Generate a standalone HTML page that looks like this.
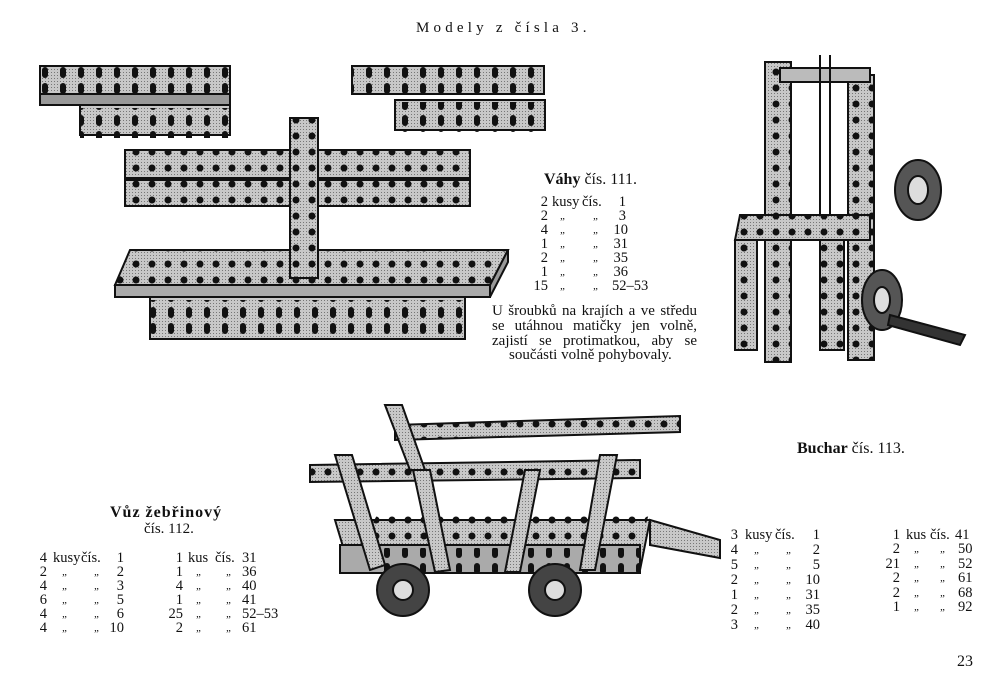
<!DOCTYPE html>
<html><head><meta charset="utf-8"><style>
html,body{margin:0;padding:0;background:#fff;}
body{width:1000px;height:700px;position:relative;overflow:hidden;font-family:"Liberation Serif",serif;color:#111;}
.t{position:absolute;font-size:15px;line-height:15px;white-space:pre;}
.r{position:absolute;font-size:14.5px;line-height:15px;white-space:pre;height:15px;}
.r span{position:absolute;top:0;}
.n{text-align:right;}
.q{font-size:11px;font-style:italic;}
.p{position:absolute;left:492px;width:205px;font-size:15px;line-height:15px;text-align:justify;text-align-last:justify;white-space:nowrap;}
svg{position:absolute;left:0;top:0;}
</style></head><body>
<svg width="1000" height="700" viewBox="0 0 1000 700">
<defs>
<pattern id="h" width="16" height="16" patternUnits="userSpaceOnUse"><circle cx="8" cy="8" r="3.5" fill="#111"/></pattern>
<pattern id="s" width="18" height="16" patternUnits="userSpaceOnUse"><rect x="6" y="3" width="6" height="11" rx="3" fill="#111"/></pattern>
<pattern id="g" width="3" height="3" patternUnits="userSpaceOnUse"><rect width="3" height="3" fill="#c8c8c8"/><rect width="1" height="1" fill="#777"/></pattern>
</defs>
<g stroke="#111" stroke-width="2">
<rect x="40" y="66" width="190" height="28" fill="url(#g)"/><rect x="40" y="66" width="190" height="28" fill="url(#s)" stroke="none"/>
<polygon points="40,94 230,94 230,105 40,105" fill="#999"/>
<rect x="80" y="105" width="150" height="30" fill="url(#g)"/><rect x="80" y="108" width="150" height="30" fill="url(#s)" stroke="none"/>
<rect x="352" y="66" width="192" height="28" fill="url(#g)"/><rect x="352" y="66" width="192" height="28" fill="url(#s)" stroke="none"/>
<rect x="395" y="100" width="150" height="30" fill="url(#g)"/><rect x="395" y="102" width="150" height="30" fill="url(#s)" stroke="none"/>
<rect x="125" y="150" width="345" height="28" fill="url(#g)"/><rect x="125" y="150" width="345" height="28" fill="url(#h)" stroke="none"/>
<rect x="125" y="180" width="345" height="26" fill="url(#g)"/><rect x="125" y="180" width="345" height="26" fill="url(#h)" stroke="none"/>
<polygon points="130,250 508,250 490,285 115,285" fill="url(#g)"/>
<polygon points="130,250 508,250 490,285 115,285" fill="url(#h)" stroke="none"/>
<rect x="115" y="285" width="375" height="12" fill="#aaa"/>
<polygon points="490,285 508,250 508,262 490,297" fill="#999"/>
<rect x="150" y="297" width="315" height="42" fill="url(#g)"/><rect x="150" y="300" width="315" height="36" fill="url(#s)" stroke="none"/>
<rect x="290" y="118" width="28" height="160" fill="url(#g)"/><rect x="290" y="118" width="28" height="160" fill="url(#h)" stroke="none"/>
<rect x="765" y="62" width="26" height="300" fill="url(#g)"/><rect x="765" y="62" width="26" height="300" fill="url(#h)" stroke="none"/>
<rect x="848" y="75" width="26" height="285" fill="url(#g)"/><rect x="848" y="75" width="26" height="285" fill="url(#h)" stroke="none"/>
<rect x="780" y="68" width="90" height="14" fill="#bbb"/>
<line x1="820" y1="55" x2="820" y2="235"/><line x1="830" y1="55" x2="830" y2="235"/>
<polygon points="740,215 870,215 870,240 735,240" fill="url(#g)"/><polygon points="740,215 870,215 870,240 735,240" fill="url(#h)" stroke="none"/>
<rect x="735" y="240" width="22" height="110" fill="url(#g)"/><rect x="735" y="240" width="22" height="110" fill="url(#h)" stroke="none"/>
<rect x="820" y="240" width="24" height="110" fill="url(#g)"/><rect x="820" y="240" width="24" height="110" fill="url(#h)" stroke="none"/>
<ellipse cx="918" cy="190" rx="23" ry="30" fill="#555"/><ellipse cx="918" cy="190" rx="10" ry="14" fill="#ddd"/>
<ellipse cx="882" cy="300" rx="20" ry="30" fill="#555"/><ellipse cx="882" cy="300" rx="8" ry="13" fill="#ddd"/>
<polygon points="890,315 965,335 960,345 888,325" fill="#333"/>
<polygon points="335,520 650,520 640,570 350,570" fill="url(#g)"/>
<polygon points="380,510 650,510 640,545 360,545" fill="url(#h)" stroke="none"/>
<rect x="340" y="545" width="300" height="28" fill="#aaa"/><rect x="380" y="548" width="260" height="24" fill="url(#s)" stroke="none"/>
<polygon points="395,425 680,416 680,432 395,440" fill="url(#g)"/><polygon points="395,425 680,416 680,432 395,440" fill="url(#h)" stroke="none"/>
<polygon points="310,465 640,460 640,478 310,482" fill="url(#g)"/><polygon points="310,465 640,460 640,478 310,482" fill="url(#h)" stroke="none"/>
<polygon points="335,455 352,455 385,565 370,570" fill="url(#g)"/>
<polygon points="413,470 430,470 450,570 435,572" fill="url(#g)"/>
<polygon points="525,470 540,470 520,572 505,572" fill="url(#g)"/>
<polygon points="600,455 617,455 595,570 580,570" fill="url(#g)"/>
<polygon points="385,405 402,405 425,470 410,470" fill="url(#g)"/>
<polygon points="650,520 720,540 720,558 650,545" fill="url(#g)"/>
<circle cx="403" cy="590" r="26" fill="#444"/><circle cx="403" cy="590" r="10" fill="#ddd"/>
<circle cx="555" cy="590" r="26" fill="#444"/><circle cx="555" cy="590" r="10" fill="#ddd"/>
</g>
</svg>
<div class="t" style="left:416px;top:21px;font-size:15px;letter-spacing:4.2px">Modely z čísla 3.</div>
<div class="t" style="left:544px;top:172px;font-size:16px"><b>Váhy</b> čís. 111.</div>

<div class="r" style="top:195px;left:0"><span class="n" style="left:520px;width:28px">2</span><span style="left:552px">kusy</span><span style="left:582px">čís.</span><span class="n" style="left:600px;width:26px">1</span></div>
<div class="r" style="top:209px;left:0"><span class="n" style="left:520px;width:28px">2</span><span class="q" style="left:560px">„</span><span class="q" style="left:593px">„</span><span class="n" style="left:600px;width:26px">3</span></div>
<div class="r" style="top:223px;left:0"><span class="n" style="left:520px;width:28px">4</span><span class="q" style="left:560px">„</span><span class="q" style="left:593px">„</span><span class="n" style="left:600px;width:28px">10</span></div>
<div class="r" style="top:237px;left:0"><span class="n" style="left:520px;width:28px">1</span><span class="q" style="left:560px">„</span><span class="q" style="left:593px">„</span><span class="n" style="left:600px;width:28px">31</span></div>
<div class="r" style="top:251px;left:0"><span class="n" style="left:520px;width:28px">2</span><span class="q" style="left:560px">„</span><span class="q" style="left:593px">„</span><span class="n" style="left:600px;width:28px">35</span></div>
<div class="r" style="top:265px;left:0"><span class="n" style="left:520px;width:28px">1</span><span class="q" style="left:560px">„</span><span class="q" style="left:593px">„</span><span class="n" style="left:600px;width:28px">36</span></div>
<div class="r" style="top:279px;left:0"><span class="n" style="left:520px;width:28px">15</span><span class="q" style="left:560px">„</span><span class="q" style="left:593px">„</span><span style="left:612px">52–53</span></div>

<div class="p" style="top:304px">U šroubků na krajích a ve středu</div>
<div class="p" style="top:319px">se utáhnou matičky jen volně,</div>
<div class="p" style="top:334px">zajistí se protimatkou, aby se</div>
<div class="t" style="left:509px;top:348px">součásti volně pohybovaly.</div>

<div class="t" style="left:797px;top:441px;font-size:16px"><b>Buchar</b> čís. 113.</div>
<div class="t" style="left:110px;top:505px;font-size:16px;letter-spacing:1px"><b>Vůz žebřinový</b></div>
<div class="t" style="left:144px;top:522px">čís. 112.</div>

<div class="r" style="top:551px;left:0"><span class="n" style="left:30px;width:17px">4</span><span style="left:53px">kusy</span><span style="left:81px">čís.</span><span class="n" style="left:100px;width:24px">1</span></div>
<div class="r" style="top:565px;left:0"><span class="n" style="left:30px;width:17px">2</span><span class="q" style="left:62px">„</span><span class="q" style="left:94px">„</span><span class="n" style="left:100px;width:24px">2</span></div>
<div class="r" style="top:579px;left:0"><span class="n" style="left:30px;width:17px">4</span><span class="q" style="left:62px">„</span><span class="q" style="left:94px">„</span><span class="n" style="left:100px;width:24px">3</span></div>
<div class="r" style="top:593px;left:0"><span class="n" style="left:30px;width:17px">6</span><span class="q" style="left:62px">„</span><span class="q" style="left:94px">„</span><span class="n" style="left:100px;width:24px">5</span></div>
<div class="r" style="top:607px;left:0"><span class="n" style="left:30px;width:17px">4</span><span class="q" style="left:62px">„</span><span class="q" style="left:94px">„</span><span class="n" style="left:100px;width:24px">6</span></div>
<div class="r" style="top:621px;left:0"><span class="n" style="left:30px;width:17px">4</span><span class="q" style="left:62px">„</span><span class="q" style="left:94px">„</span><span class="n" style="left:100px;width:24px">10</span></div>
<div class="r" style="top:551px;left:0"><span class="n" style="left:160px;width:23px">1</span><span style="left:188px">kus</span><span style="left:215px">čís.</span><span style="left:242px">31</span></div>
<div class="r" style="top:565px;left:0"><span class="n" style="left:160px;width:23px">1</span><span class="q" style="left:196px">„</span><span class="q" style="left:226px">„</span><span style="left:242px">36</span></div>
<div class="r" style="top:579px;left:0"><span class="n" style="left:160px;width:23px">4</span><span class="q" style="left:196px">„</span><span class="q" style="left:226px">„</span><span style="left:242px">40</span></div>
<div class="r" style="top:593px;left:0"><span class="n" style="left:160px;width:23px">1</span><span class="q" style="left:196px">„</span><span class="q" style="left:226px">„</span><span style="left:242px">41</span></div>
<div class="r" style="top:607px;left:0"><span class="n" style="left:160px;width:23px">25</span><span class="q" style="left:196px">„</span><span class="q" style="left:226px">„</span><span style="left:242px">52–53</span></div>
<div class="r" style="top:621px;left:0"><span class="n" style="left:160px;width:23px">2</span><span class="q" style="left:196px">„</span><span class="q" style="left:226px">„</span><span style="left:242px">61</span></div>

<div class="r" style="top:528px;left:0"><span class="n" style="left:720px;width:18px">3</span><span style="left:745px">kusy</span><span style="left:775px">čís.</span><span class="n" style="left:796px;width:24px">1</span></div>
<div class="r" style="top:543px;left:0"><span class="n" style="left:720px;width:18px">4</span><span class="q" style="left:754px">„</span><span class="q" style="left:786px">„</span><span class="n" style="left:796px;width:24px">2</span></div>
<div class="r" style="top:558px;left:0"><span class="n" style="left:720px;width:18px">5</span><span class="q" style="left:754px">„</span><span class="q" style="left:786px">„</span><span class="n" style="left:796px;width:24px">5</span></div>
<div class="r" style="top:573px;left:0"><span class="n" style="left:720px;width:18px">2</span><span class="q" style="left:754px">„</span><span class="q" style="left:786px">„</span><span class="n" style="left:796px;width:24px">10</span></div>
<div class="r" style="top:588px;left:0"><span class="n" style="left:720px;width:18px">1</span><span class="q" style="left:754px">„</span><span class="q" style="left:786px">„</span><span class="n" style="left:796px;width:24px">31</span></div>
<div class="r" style="top:603px;left:0"><span class="n" style="left:720px;width:18px">2</span><span class="q" style="left:754px">„</span><span class="q" style="left:786px">„</span><span class="n" style="left:796px;width:24px">35</span></div>
<div class="r" style="top:618px;left:0"><span class="n" style="left:720px;width:18px">3</span><span class="q" style="left:754px">„</span><span class="q" style="left:786px">„</span><span class="n" style="left:796px;width:24px">40</span></div>
<div class="r" style="top:528px;left:0"><span class="n" style="left:880px;width:20px">1</span><span style="left:906px">kus</span><span style="left:930px">čís.</span><span style="left:955px">41</span></div>
<div class="r" style="top:542px;left:0"><span class="n" style="left:880px;width:20px">2</span><span class="q" style="left:914px">„</span><span class="q" style="left:940px">„</span><span style="left:958px">50</span></div>
<div class="r" style="top:557px;left:0"><span class="n" style="left:880px;width:20px">21</span><span class="q" style="left:914px">„</span><span class="q" style="left:940px">„</span><span style="left:958px">52</span></div>
<div class="r" style="top:571px;left:0"><span class="n" style="left:880px;width:20px">2</span><span class="q" style="left:914px">„</span><span class="q" style="left:940px">„</span><span style="left:958px">61</span></div>
<div class="r" style="top:586px;left:0"><span class="n" style="left:880px;width:20px">2</span><span class="q" style="left:914px">„</span><span class="q" style="left:940px">„</span><span style="left:958px">68</span></div>
<div class="r" style="top:600px;left:0"><span class="n" style="left:880px;width:20px">1</span><span class="q" style="left:914px">„</span><span class="q" style="left:940px">„</span><span style="left:958px">92</span></div>

<div class="t" style="left:957px;top:654px;font-size:16px">23</div>
</body></html>
